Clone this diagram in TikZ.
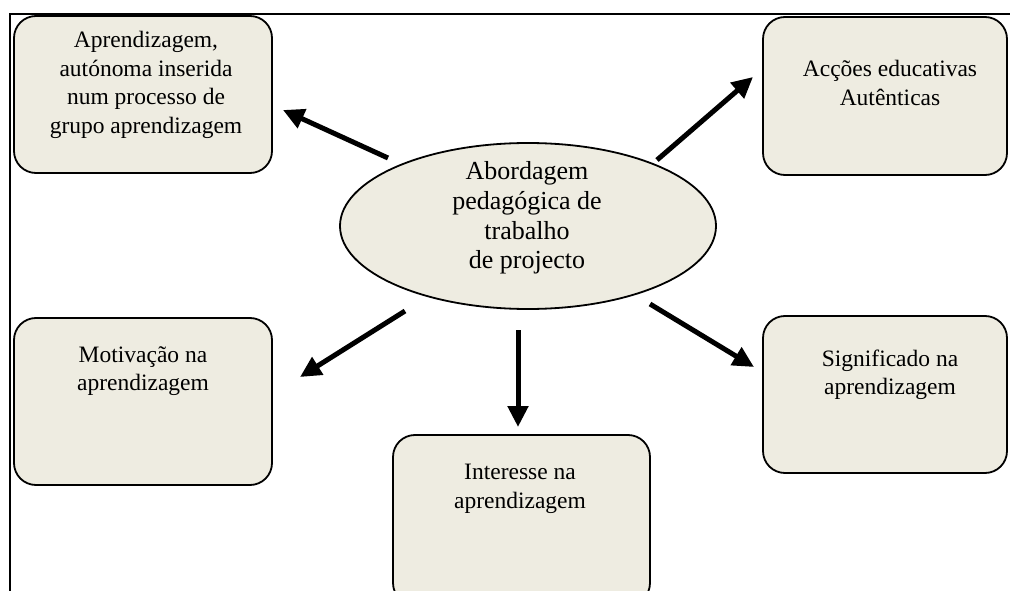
\documentclass[tikz,border=0pt]{standalone}
\usepackage{fontspec}
\setmainfont{Liberation Serif}
\usetikzlibrary{arrows.meta,shapes.geometric}
\definecolor{boxfill}{HTML}{EEECE1}
\begin{document}
\begin{tikzpicture}[x=1pt,y=-1pt,
  card/.style={draw=black,line width=1.8pt,fill=boxfill,rounded corners=22pt,inner sep=0pt},
  cardtext/.style={align=center,font=\fontsize{23.5}{28.5}\selectfont,inner sep=0pt},
  bigarrow/.style={line width=5pt,-{Triangle[length=21pt,width=20pt]}}]
\useasboundingbox (0,0) rectangle (1010,591);
\fill[white] (0,0) rectangle (1010,591);
% frame
\coordinate (frTR) at (1010,14);
\coordinate (frTL) at (10,14);
\coordinate (frBL) at (10,591);
\draw[line width=2pt] (frTR) -- (frTL) -- (frBL);
% boxes
\node[card,minimum width=258pt,minimum height=157pt] (tl) at (143,94.5) {};
\node[card,minimum width=244pt,minimum height=158pt] (tr) at (885,96) {};
\node[card,minimum width=258pt,minimum height=167pt] (ml) at (143,401.5) {};
\node[card,minimum width=257pt,minimum height=170pt] (bc) at (521.5,520) {};
\node[card,minimum width=244pt,minimum height=157pt] (mr) at (885,394.5) {};
% ellipse
\node[ellipse,draw=black,line width=1.8pt,fill=boxfill,minimum width=376pt,minimum height=166pt,inner sep=0pt] (ell) at (528,226) {};
% texts
\node[cardtext] (tlt) at (146,85) {Aprendizagem,\\aut\'onoma inserida\\num processo de\\grupo aprendizagem};
\node[cardtext] (trt) at (890,83) {Acções educativas\\Autênticas};
\node[cardtext] (mlt) at (143,371) {Motivação na\\aprendizagem};
\node[cardtext] (bct) at (520,489) {Interesse na\\aprendizagem};
\node[cardtext] (mrt) at (890,375) {Significado na\\aprendizagem};
\node[align=center,inner sep=0pt,font=\fontsize{26}{29.7}\selectfont] (ellt) at (527,218) {Abordagem\\pedagógica de\\trabalho\\de projecto};
% arrow end points
\coordinate (aTLs) at (388,158); \coordinate (aTLe) at (283,110);
\coordinate (aTRs) at (657,160); \coordinate (aTRe) at (753,77);
\coordinate (aMLs) at (405,311); \coordinate (aMLe) at (300,377);
\coordinate (aBCs) at (518,330); \coordinate (aBCe) at (518,427);
\coordinate (aMRs) at (650,304); \coordinate (aMRe) at (754,367);
\draw[bigarrow] (aTLs) -- (aTLe);
\draw[bigarrow] (aTRs) -- (aTRe);
\draw[bigarrow] (aMLs) -- (aMLe);
\draw[bigarrow] (aBCs) -- (aBCe);
\draw[bigarrow] (aMRs) -- (aMRe);
\end{tikzpicture}
\end{document}
